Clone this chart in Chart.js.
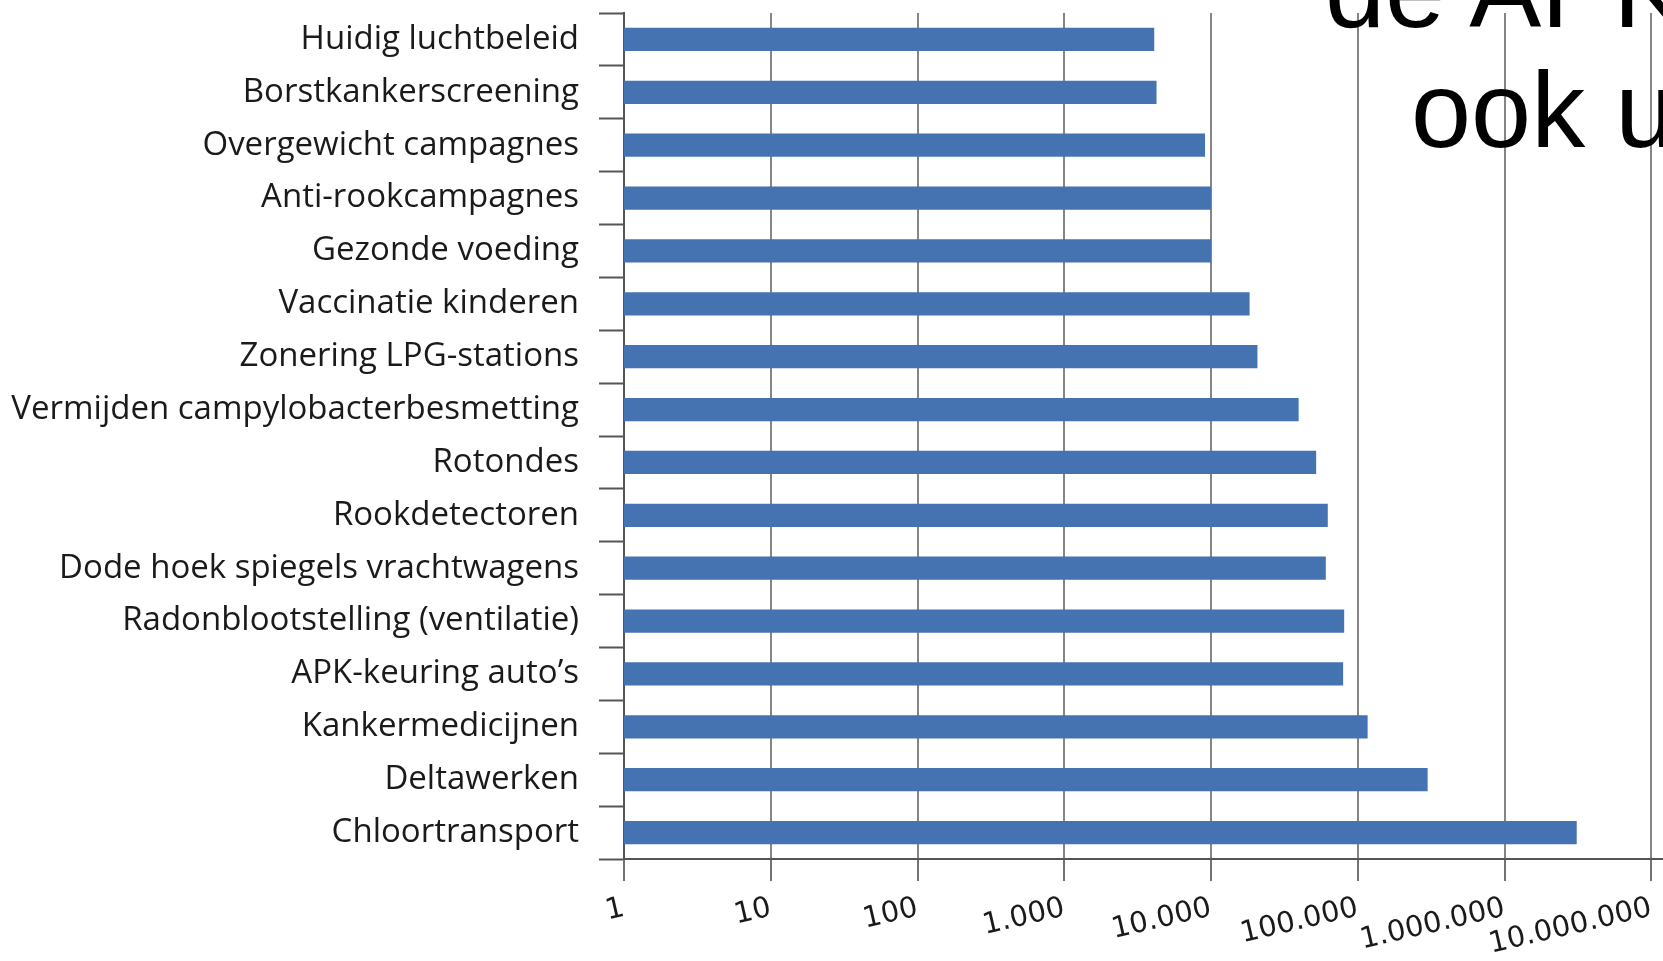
<!DOCTYPE html>
<html>
<head>
<meta charset="utf-8">
<script src="https://cdn.jsdelivr.net/npm/chart.js@4"></script>
<style>
  html, body { margin: 0; padding: 0; background: #fff; overflow: hidden; }
  #wrap { position: relative; width: 1663px; height: 961px; }
  .overlay {
    position: absolute; font-family: "Liberation Sans", Arial, sans-serif;
    font-size: 108px; line-height: 1; color: #000; white-space: nowrap; z-index: 2;
  }
</style>
</head>
<body>
<div id="wrap">
  <canvas id="chart"></canvas>
  <div class="overlay" style="left:1325px; top:-64px;">de APK</div>
  <div class="overlay" style="left:1411px; top:56px;">ook u</div>
</div>
<script>
const categories = [
    'Huidig luchtbeleid',
    'Borstkankerscreening',
    'Overgewicht campagnes',
    'Anti-rookcampagnes',
    'Gezonde voeding',
    'Vaccinatie kinderen',
    'Zonering LPG-stations',
    'Vermijden campylobacterbesmetting',
    'Rotondes',
    'Rookdetectoren',
    'Dode hoek spiegels vrachtwagens',
    'Radonblootstelling (ventilatie)',
    'APK-keuring auto\u2019s',
    'Kankermedicijnen',
    'Deltawerken',
    'Chloortransport'
];
const values = [
    4100, 4250, 9100, 10000, 10000, 18300, 20700, 39500,
    52000, 62400, 60500, 80700, 79400, 116600, 299000, 3100000
];
const tickValues = [1, 10, 100, 1000, 10000, 100000, 1000000, 10000000];
const tickLabels = ['1', '10', '100', '1.000', '10.000', '100.000', '1.000.000', '10.000.000'];

const ctx = document.getElementById('chart').getContext('2d');

new Chart(ctx, {
    type: 'bar',
    data: {
        labels: categories,
        datasets: [{
            data: values,
            backgroundColor: '#4573b2',
            barPercentage: 0.44,
            categoryPercentage: 1
        }]
    },
    options: {
        indexAxis: 'y',
        responsive: true,
        maintainAspectRatio: false,
        animation: false,
        layout: { padding: { top: 13, left: 0, right: 0, bottom: 0 } },
        plugins: {
            legend: { display: false },
            tooltip: { enabled: false }
        },
        scales: {
            x: {
                type: 'logarithmic',
                min: 1,
                max: 12000000,
                afterBuildTicks: scale => {
                    scale.ticks = tickValues.map(v => ({ value: v }));
                },
                afterFit: scale => {
                    scale.height = 102;
                    scale.paddingLeft = 0;
                    scale.paddingRight = 0;
                },
                grid: {
                    color: '#858585',
                    lineWidth: 2,
                    tickLength: 22,
                    tickColor: '#444',
                    tickWidth: 1.5
                },
                border: { color: '#555', width: 2 },
                ticks: {
                    autoSkip: false,
                    minRotation: 13,
                    maxRotation: 13,
                    padding: 10,
                    color: '#1a1a1a',
                    font: { family: '"DejaVu Sans", sans-serif', size: 29 },
                    callback: (v, i) => tickLabels[i]
                }
            },
            y: {
                afterFit: scale => {
                    scale.width = 624;
                    scale.paddingTop = 0;
                    scale.paddingBottom = 0;
                },
                grid: {
                    offset: true,
                    drawOnChartArea: false,
                    tickLength: 25,
                    tickColor: '#555',
                    tickWidth: 2
                },
                border: { color: '#555', width: 2 },
                ticks: {
                    padding: 20,
                    color: '#1a1a1a',
                    font: { family: '"Open Sans", sans-serif', size: 33, weight: 500 }
                }
            }
        }
    }
});
</script>
</body>
</html>
